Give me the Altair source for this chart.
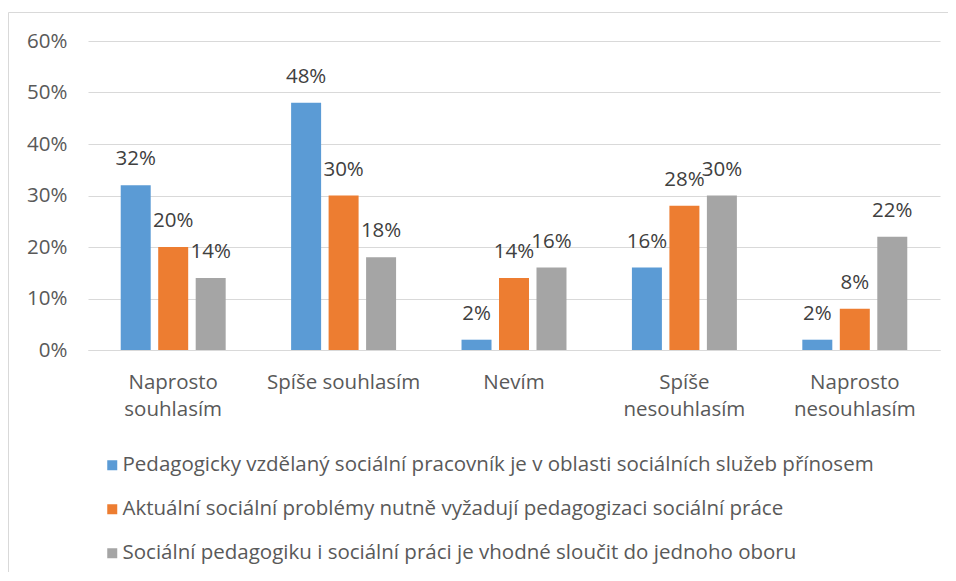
import altair as alt
import pandas as pd

categories = ["Naprosto souhlasím", "Spíše souhlasím", "Nevím", "Spíše nesouhlasím", "Naprosto nesouhlasím"]
series = [
    "Pedagogicky vzdělaný sociální pracovník je v oblasti sociálních služeb přínosem",
    "Aktuální sociální problémy nutně vyžadují pedagogizaci sociální práce",
    "Sociální pedagogiku i sociální práci je vhodné sloučit do jednoho oboru",
]
values_s1 = [32, 48, 2, 16, 2]
values_s2 = [20, 30, 14, 28, 8]
values_s3 = [14, 18, 16, 30, 22]
colors = ["#5B9BD5", "#ED7D31", "#A5A5A5"]

rows = []
for s, vals in zip(series, [values_s1, values_s2, values_s3]):
    for c, v in zip(categories, vals):
        rows.append({"kategorie": c, "serie": s, "hodnota": v, "popis": f"{v}%"})
df = pd.DataFrame(rows)

FONT = "Open Sans"
TXT = "#595959"
FS = 20.5

base = alt.Chart(df).encode(
    x=alt.X("kategorie:N", sort=categories, title=None,
            scale=alt.Scale(paddingInner=0.384, paddingOuter=0.192),
            axis=alt.Axis(labelAngle=0, ticks=False, domainColor="#D9D9D9", domainWidth=1,
                          labelFontSize=FS, labelColor=TXT, labelFont=FONT, labelPadding=22,
                          labelLineHeight=27, labelLimit=300,
                          labelExpr="(datum.value == 'Spíše souhlasím' || datum.value == 'Nevím') ? datum.value : split(datum.value, ' ')")),
    xOffset=alt.XOffset("serie:N", sort=series, scale=alt.Scale(paddingInner=0.2, paddingOuter=0)),
    y=alt.Y("hodnota:Q", title=None,
            scale=alt.Scale(domain=[0, 60], nice=False),
            axis=alt.Axis(values=[0, 10, 20, 30, 40, 50, 60], labelExpr="datum.value + '%'",
                          ticks=False, domain=False, gridColor="#D9D9D9", gridWidth=1,
                          labelFontSize=FS, labelColor=TXT, labelFont=FONT, labelPadding=21)),
)

bars = base.mark_bar().encode(
    color=alt.Color("serie:N", sort=series, title=None,
                    scale=alt.Scale(domain=series, range=colors),
                    legend=alt.Legend(orient="none", legendX=14, legendY=414, direction="vertical",
                                      symbolType="square", symbolSize=100, symbolStrokeWidth=0,
                                      labelFontSize=FS, labelFont=FONT, labelColor=TXT,
                                      labelOffset=0, rowPadding=23, labelLimit=900)),
)

labels = base.mark_text(dy=-26, fontSize=FS, font=FONT, color="#404040", baseline="middle").encode(
    text="popis:N"
)

frame_data = alt.Data(values=[{"k": 1}])
frame_left = alt.Chart(frame_data).mark_rule(color="#D9D9D9", strokeWidth=1).encode(
    x=alt.value(-79.5), y=alt.value(-28.5), y2=alt.value(560))
frame_top = alt.Chart(frame_data).mark_rule(color="#D9D9D9", strokeWidth=1).encode(
    x=alt.value(-79.5), x2=alt.value(900), y=alt.value(-28.5))

chart = alt.layer(bars, labels, frame_left, frame_top).properties(
    width=852, height=309,
    autosize=alt.AutoSizeParams(type="none"),
    padding={"left": 80, "top": 33, "right": 8, "bottom": 222},
).configure_view(stroke=None)

chart.save("out.html", embed_options={"renderer": "svg", "actions": False})
